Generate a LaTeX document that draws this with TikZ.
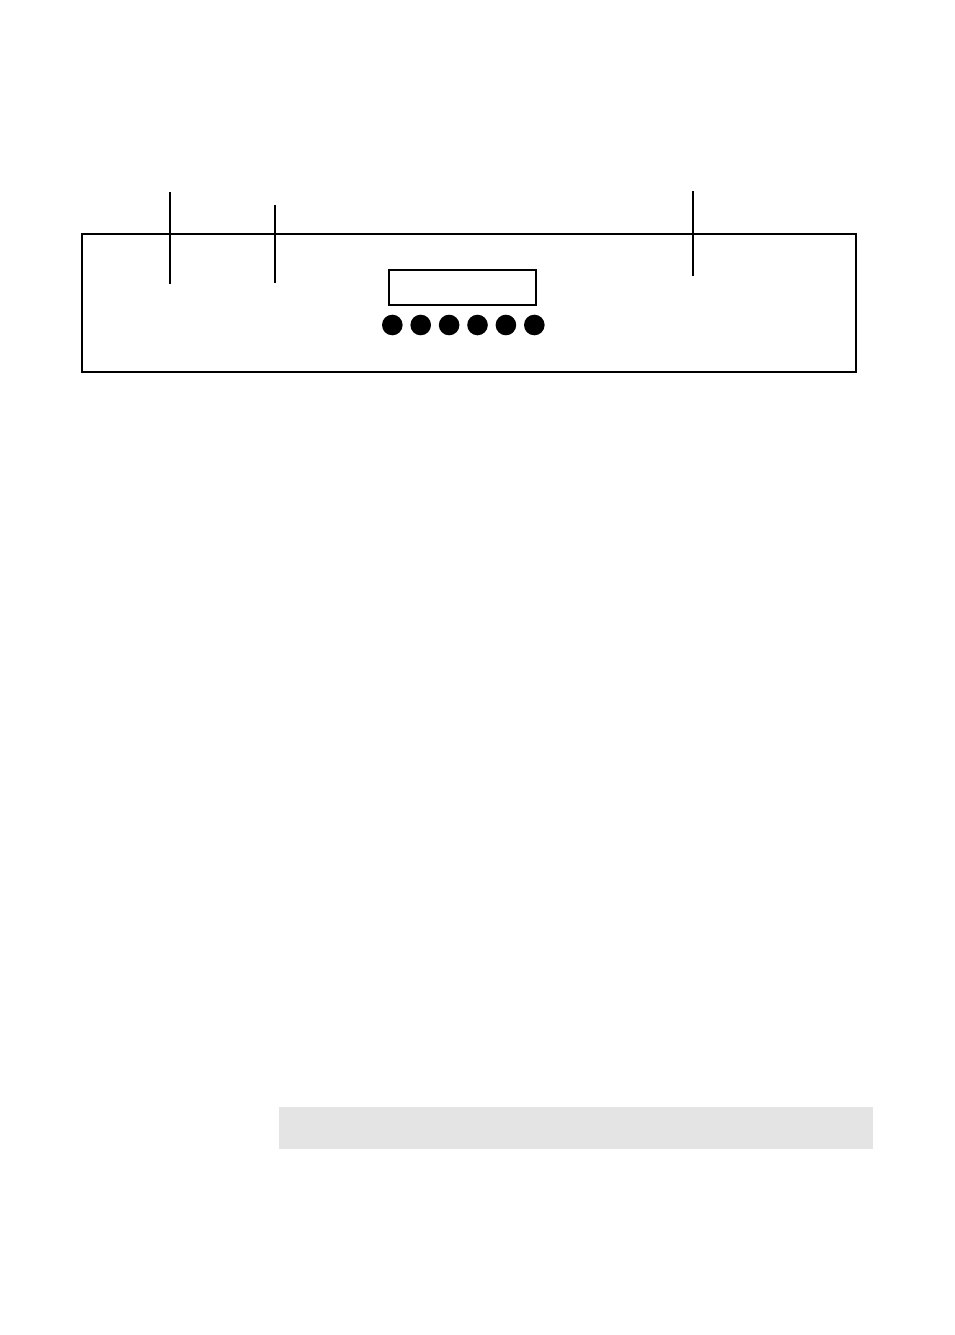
\documentclass[tikz,border=0pt]{standalone}
\usepackage{tikz}
\usetikzlibrary{positioning}
\definecolor{stripgray}{HTML}{E4E4E4}

\begin{document}
\begin{tikzpicture}[x=1pt,y=-1pt,line width=2pt]

% Fix the page size
\useasboundingbox (0,0) rectangle (954,1335);

% Draw the front panel
\draw (82,233.5) rectangle (855.5,371.5);

% Draw the marker lines
\draw (170,192) -- (170,283.5);
\draw (275,205) -- (275,282.5);
\draw (693,191) -- (693,275.5);

% Draw the display window
\draw (389,270) rectangle (536,305);

% Draw the buttons
\foreach \i in {0,...,5}
  \fill[black] (392.3+28.4*\i,325) circle(10.3);

% Draw the grey strip
\fill[stripgray] (279,1107) rectangle (873,1149);

\end{tikzpicture}
\end{document}
